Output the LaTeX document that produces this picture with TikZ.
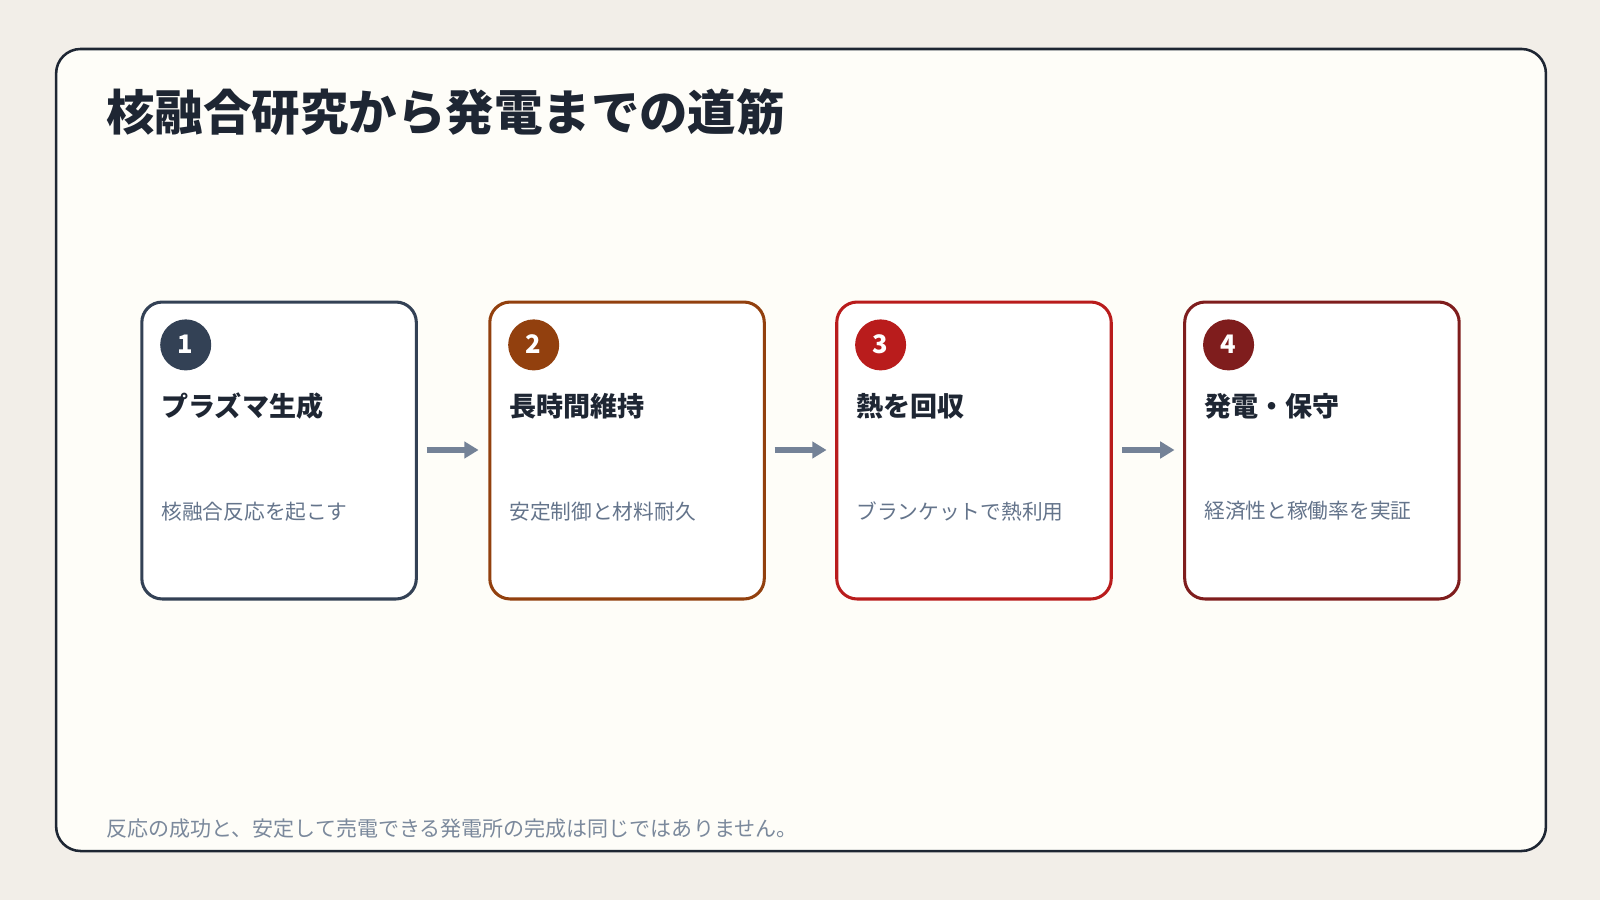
\documentclass[tikz,border=0pt]{standalone}
\usepackage{fontspec}
\setmainfont{Noto Sans CJK JP}
\usetikzlibrary{arrows.meta}
\definecolor{bg}{HTML}{F2EEE8}
\definecolor{panel}{HTML}{FEFDF8}
\definecolor{ink}{HTML}{1E2633}
\definecolor{sub}{HTML}{64748B}
\definecolor{cA}{HTML}{334155}
\definecolor{cB}{HTML}{92400E}
\definecolor{cC}{HTML}{B91C1C}
\definecolor{cD}{HTML}{7F1D1D}
\tikzset{
 card/.style={draw=#1,line width=3pt,rounded corners=20pt,fill=white,minimum width=269pt,minimum height=291pt,inner sep=0pt},
 badge/.style={circle,fill=#1,minimum size=50pt,inner sep=0pt,text=white,font=\fontsize{25}{26}\selectfont\bfseries},
 head/.style={anchor=west,inner sep=0pt,text=ink,font=\fontsize{26.5}{30}\selectfont\bfseries},
 desc/.style={anchor=west,inner sep=0pt,text=sub,font=\fontsize{20.3}{24}\selectfont},
 flow/.style={draw=sub!90!white,line width=5pt,-{Triangle[length=14pt,width=16pt]}}
}
\begin{document}
\begin{tikzpicture}[x=1pt,y=-1pt]
\fill[bg] (0,0) rectangle (1568,882);
\useasboundingbox (0,0) rectangle (1568,882);
\draw[ink,line width=2.5pt,fill=panel,rounded corners=24pt] (55,48) rectangle (1515,834);
\node[anchor=base west,inner sep=0pt,text=ink,font=\fontsize{47.5}{50}\selectfont\bfseries] (title) at (104,128) {核融合研究から発電までの道筋};
\foreach \n/\x/\c/\h/\d in {1/137.5/cA/プラズマ生成/核融合反応を起こす,2/478.5/cB/長時間維持/安定制御と材料耐久,3/818.5/cC/熱を回収/ブランケットで熱利用,4/1159.5/cD/発電・保守/経済性と稼働率を実証}{
 \node[card=\c,anchor=north west] (card\n) at (\x,294.5) {};
 \node[badge=\c] (badge\n) at (\x+44.5,338) {\raisebox{2pt}{\n}};
 \node[head] (head\n) at (\x+20.5,398) {\h};
 \node[desc] (desc\n) at (\x+20.5,501) {\d};
}
\coordinate (a1) at (418,441); \coordinate (b1) at (469,441);
\coordinate (a2) at (759,441); \coordinate (b2) at (810,441);
\coordinate (a3) at (1100,441); \coordinate (b3) at (1151,441);
\draw[flow] (a1) -- (b1);
\draw[flow] (a2) -- (b2);
\draw[flow] (a3) -- (b3);
\node[anchor=west,inner sep=0pt,text=sub!85!white,font=\fontsize{20.6}{24}\selectfont] (note) at (104,812) {反応の成功と、安定して売電できる発電所の完成は同じではありません。};
\end{tikzpicture}
\end{document}
